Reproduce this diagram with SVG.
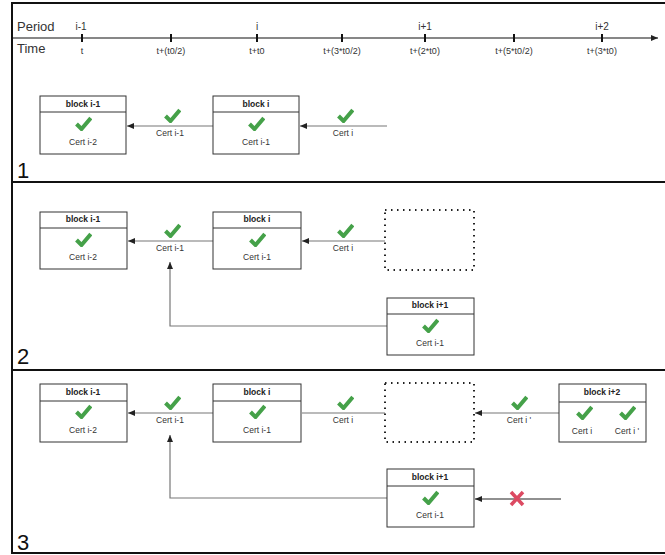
<svg xmlns="http://www.w3.org/2000/svg" xmlns:xlink="http://www.w3.org/1999/xlink" width="665" height="555" viewBox="0 0 665 555">
<style>
text{font-family:"Liberation Sans",Arial,sans-serif;fill:#333}
.hd{font-size:8.5px;font-weight:bold;text-anchor:middle;fill:#222}
.ct{font-size:8.5px;text-anchor:middle}
.pl{font-size:10px;text-anchor:middle}
.tl{font-size:9px;text-anchor:middle}
.big{font-size:13px}
.num{font-size:22px;fill:#111}
.box{fill:#fff;stroke:#333;stroke-width:1}
.div{stroke:#333;stroke-width:1}
.dot{fill:none;stroke:#222;stroke-width:2;stroke-dasharray:1.5 4.5}
.con{fill:none;stroke:#777;stroke-width:1.2}
.cond{fill:none;stroke:#222;stroke-width:1.2}
.frame{stroke:#111;stroke-width:2;fill:none}
.tick{stroke:#111;stroke-width:2}
</style>
<defs>
<symbol id="chk" viewBox="0 0 17 15">
<path d="M1.5,8 L6.5,13 L15.8,2" fill="none" stroke="#45a149" stroke-width="4"/>
</symbol>
<marker id="ah" markerUnits="userSpaceOnUse" markerWidth="8" markerHeight="6" refX="7" refY="3" orient="auto">
<path d="M0,0 L7,3 L0,6 z" fill="#222"/>
</marker>
</defs>

<g id="frame">
<line class="frame" x1="12" y1="3" x2="665" y2="3"/>
<line class="frame" x1="12" y1="2" x2="12" y2="554"/>
<line class="frame" x1="12" y1="182" x2="665" y2="182"/>
<line class="frame" x1="12" y1="370" x2="665" y2="370"/>
<line class="frame" x1="12" y1="553" x2="665" y2="553"/>
<text class="num" x="17" y="178">1</text>
<text class="num" x="17" y="364">2</text>
<text class="num" x="17" y="550">3</text>
</g>

<g id="timeline">
<line x1="12" y1="38" x2="658" y2="38" stroke="#111" stroke-width="1.2" marker-end="url(#ah)"/>
<text class="big" x="17" y="31">Period</text>
<text class="big" x="17" y="53">Time</text>
<g class="tick">
<line x1="82" y1="34" x2="82" y2="42"/>
<line x1="171" y1="34" x2="171" y2="42"/>
<line x1="257" y1="34" x2="257" y2="42"/>
<line x1="342" y1="34" x2="342" y2="42"/>
<line x1="425" y1="34" x2="425" y2="42"/>
<line x1="514" y1="34" x2="514" y2="42"/>
<line x1="602" y1="34" x2="602" y2="42"/>
</g>
<text class="pl" x="81" y="30">i-1</text>
<text class="pl" x="257" y="30">i</text>
<text class="pl" x="425" y="30">i+1</text>
<text class="pl" x="602" y="30">i+2</text>
<text class="tl" x="82" y="54">t</text>
<text class="tl" x="171" y="54">t+(t0/2)</text>
<text class="tl" x="257" y="54">t+t0</text>
<text class="tl" x="342" y="54">t+(3*t0/2)</text>
<text class="tl" x="425" y="54">t+(2*t0)</text>
<text class="tl" x="514" y="54">t+(5*t0/2)</text>
<text class="tl" x="602" y="54">t+(3*t0)</text>
</g>

<g id="connectors">
<line class="con" x1="213" y1="126" x2="127" y2="126" marker-end="url(#ah)"/>
<line class="con" x1="387" y1="126" x2="300" y2="126" marker-end="url(#ah)"/>
<line class="con" x1="213" y1="241" x2="128" y2="241" marker-end="url(#ah)"/>
<line class="con" x1="385" y1="241" x2="302" y2="241" marker-end="url(#ah)"/>
<polyline class="con" points="387,326 170,326 170,262" marker-end="url(#ah)"/>
<line class="con" x1="213" y1="413" x2="128" y2="413" marker-end="url(#ah)"/>
<line class="con" x1="385" y1="413" x2="302" y2="413"/>
<line class="con" x1="559" y1="413" x2="475" y2="413" marker-end="url(#ah)"/>
<polyline class="con" points="387,498 170,498 170,435" marker-end="url(#ah)"/>
<line class="cond" x1="561" y1="499" x2="475" y2="499" marker-end="url(#ah)"/>
<use href="#chk" x="164" y="108" width="17" height="15"/>
<text class="ct" x="170" y="136">Cert i-1</text>
<use href="#chk" x="337" y="108" width="17" height="15"/>
<text class="ct" x="343" y="136">Cert i</text>
<use href="#chk" x="164" y="223" width="17" height="15"/>
<text class="ct" x="170" y="251">Cert i-1</text>
<use href="#chk" x="337" y="223" width="17" height="15"/>
<text class="ct" x="343" y="251">Cert i</text>
<use href="#chk" x="164" y="395" width="17" height="15"/>
<text class="ct" x="170" y="423">Cert i-1</text>
<use href="#chk" x="337" y="395" width="17" height="15"/>
<text class="ct" x="343" y="423">Cert i</text>
<use href="#chk" x="511" y="395" width="17" height="15"/>
<text class="ct" x="519" y="423">Cert i '</text>
<path d="M511,492 L523,505 M523,492 L511,505" stroke="#dc4a62" stroke-width="3.5" fill="none"/>
</g>

<g id="p1-block-i-1">
<rect class="box" x="40" y="96" width="86" height="58"/>
<line class="div" x1="40" y1="112" x2="126" y2="112"/>
<text class="hd" x="83" y="107">block i-1</text>
<use href="#chk" x="75" y="116" width="17" height="15"/>
<text class="ct" x="83" y="145">Cert i-2</text>
</g>
<g id="p1-block-i">
<rect class="box" x="213" y="96" width="86" height="58"/>
<line class="div" x1="213" y1="112" x2="299" y2="112"/>
<text class="hd" x="256" y="107">block i</text>
<use href="#chk" x="248" y="116" width="17" height="15"/>
<text class="ct" x="256" y="145">Cert i-1</text>
</g>

<g id="p2-block-i-1">
<rect class="box" x="40" y="212" width="87" height="57"/>
<line class="div" x1="40" y1="228" x2="127" y2="228"/>
<text class="hd" x="83" y="222">block i-1</text>
<use href="#chk" x="75" y="232" width="17" height="15"/>
<text class="ct" x="83" y="260">Cert i-2</text>
</g>
<g id="p2-block-i">
<rect class="box" x="213" y="212" width="88" height="57"/>
<line class="div" x1="213" y1="228" x2="301" y2="228"/>
<text class="hd" x="257" y="222">block i</text>
<use href="#chk" x="249" y="232" width="17" height="15"/>
<text class="ct" x="257" y="260">Cert i-1</text>
</g>
<g id="p2-empty">
<rect class="dot" x="385" y="210" width="89" height="60"/>
</g>
<g id="p2-block-i1">
<rect class="box" x="387" y="298" width="87" height="57"/>
<line class="div" x1="387" y1="314" x2="474" y2="314"/>
<text class="hd" x="430" y="308">block i+1</text>
<use href="#chk" x="422" y="318" width="17" height="15"/>
<text class="ct" x="430" y="346">Cert i-1</text>
</g>

<g id="p3-block-i-1">
<rect class="box" x="40" y="384" width="87" height="58"/>
<line class="div" x1="40" y1="401" x2="127" y2="401"/>
<text class="hd" x="83" y="395">block i-1</text>
<use href="#chk" x="75" y="404" width="17" height="15"/>
<text class="ct" x="83" y="433">Cert i-2</text>
</g>
<g id="p3-block-i">
<rect class="box" x="213" y="384" width="88" height="58"/>
<line class="div" x1="213" y1="401" x2="301" y2="401"/>
<text class="hd" x="257" y="395">block i</text>
<use href="#chk" x="249" y="404" width="17" height="15"/>
<text class="ct" x="257" y="433">Cert i-1</text>
</g>
<g id="p3-empty">
<rect class="dot" x="385" y="383" width="89" height="59"/>
</g>
<g id="p3-block-i2">
<rect class="box" x="559" y="384" width="87" height="58"/>
<line class="div" x1="559" y1="402" x2="646" y2="402"/>
<text class="hd" x="602" y="395">block i+2</text>
<use href="#chk" x="576" y="405" width="17" height="15"/>
<text class="ct" x="582" y="434">Cert i</text>
<use href="#chk" x="619" y="405" width="17" height="15"/>
<text class="ct" x="627" y="434">Cert i '</text>
</g>
<g id="p3-block-i1">
<rect class="box" x="387" y="469" width="87" height="58"/>
<line class="div" x1="387" y1="486" x2="474" y2="486"/>
<text class="hd" x="430" y="480">block i+1</text>
<use href="#chk" x="422" y="490" width="17" height="15"/>
<text class="ct" x="430" y="518">Cert i-1</text>
</g>
</svg>
